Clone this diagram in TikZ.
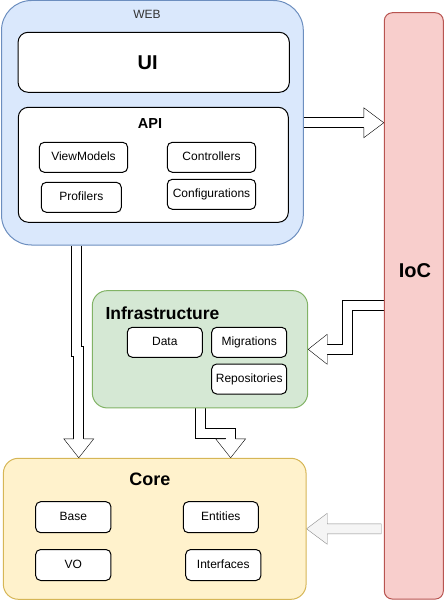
\documentclass[tikz,border=0pt]{standalone}
\usepackage{fontspec}
\setmainfont{Liberation Sans}
\usepackage{tikz}
\usetikzlibrary{calc,backgrounds}
\definecolor{webfill}{HTML}{DAE8FC}
\definecolor{webline}{HTML}{6C8EBF}
\definecolor{infrafill}{HTML}{D5E8D4}
\definecolor{infraline}{HTML}{82B366}
\definecolor{corefill}{HTML}{FFF2CC}
\definecolor{coreline}{HTML}{D6B656}
\definecolor{iocfill}{HTML}{F8CECC}
\definecolor{iocline}{HTML}{B85450}
\definecolor{arrowfill}{HTML}{F5F5F5}
\definecolor{arrowline}{HTML}{8C8C8C}

\begin{document}
\begin{tikzpicture}[x=1pt,y=-1pt,line width=1pt,inner sep=0pt,
  layer/.style={rectangle,draw,rounded corners=15pt},
  part/.style={rectangle,draw=black,fill=white,rounded corners=5pt,minimum height=30pt,
    font=\fontsize{12}{14}\selectfont,text height=8.6pt,text depth=2.4pt},
  heading/.style={font=\bfseries\fontsize{#1}{#1}\selectfont},
  flexshaft/.style={draw=white,line width=9pt,line join=miter,
    preaction={draw=black,line width=11pt,line join=miter}},
  flexhead/.style={draw=black,fill=white,line join=miter},
  grayarrow/.style={draw=arrowline,fill=arrowfill,line join=miter}]
\useasboundingbox (0,0) rectangle (445,601);

%Web
\node at (152.4,122.75)[layer,fill=webfill,draw=webline,rounded corners=30pt,minimum width=301.8pt,minimum height=244.5pt] (web) {} ;
\node at (147,14)[text=black!80,font=\fontsize{12}{14}\selectfont] (weblabel) {WEB} ;
\node at (153.7,62.3)[layer,fill=white,draw=black,rounded corners=10pt,minimum width=271.3pt,minimum height=60pt] (ui) {} ;
\node at (147.7,63)[heading=20] (uilabel) {UI} ;
\node at (153.3,164.8)[layer,fill=white,draw=black,rounded corners=10pt,minimum width=270pt,minimum height=115pt] (api) {} ;
\node at (150,123.5)[heading=14.5] (apilabel) {API} ;
\node at (83.5,157.3)[part,minimum width=88.4pt] (viewmodels) {ViewModels} ;
\node at (211.5,157.3)[part,minimum width=88.4pt] (controllers) {Controllers} ;
\node at (81.3,197.3)[part,minimum width=80pt] (profilers) {Profilers} ;
\node at (211.5,194.3)[part,minimum width=88.4pt] (configurations) {Configurations} ;

%Infrastructure
\node at (200,349.3)[layer,fill=infrafill,draw=infraline,minimum width=215.4pt,minimum height=117.3pt] (infra) {} ;
\node at (162.5,313)[heading=17.5] (infralabel) {Infrastructure} ;
\node at (164.8,342.3)[part,minimum width=75pt] (data) {Data} ;
\node at (249.2,342.3)[part,minimum width=75pt] (migrations) {Migrations} ;
\node at (249.2,379)[part,minimum width=75pt] (repositories) {Repositories} ;

%Core
\node at (154.7,528.8)[layer,fill=corefill,draw=coreline,minimum width=302.7pt,minimum height=141pt] (core) {} ;
\node at (150,479.5)[heading=18] (corelabel) {Core} ;
\node at (73.3,517.2)[part,minimum width=75.3pt,minimum height=31pt] (base) {Base} ;
\node at (220.8,517.2)[part,minimum width=75pt,minimum height=31pt] (entities) {Entities} ;
\node at (73.3,565)[part,minimum width=75.3pt,minimum height=31pt] (vo) {VO} ;
\node at (223.3,565)[part,minimum width=75.3pt,minimum height=31pt] (interfaces) {Interfaces} ;

%IoC
\node at (413.8,305.9)[layer,fill=iocfill,draw=iocline,rounded corners=8pt,minimum width=59pt,minimum height=586.3pt] (ioc) {} ;
\node at (415,271)[heading=20] (ioclabel) {IoC} ;

%Arrows
\coordinate (webout) at ($(web.south west)!0.25!(web.south east)$) ;
\coordinate (corein) at ($(core.north west)!0.25!(core.north east)$) ;
\coordinate (infrain) at ($(core.north west)!0.75!(core.north east)$) ;
\coordinate (iocin) at (ioc.west |- web.east) ;
\begin{scope}[on background layer]
%web -> ioc
\draw[flexshaft] (web.east) -- ($(iocin)+(-20,0)$) ;
\draw[flexhead] ($(iocin)+(-20,-5)$) -- ++(0,-10) -- (iocin) -- ++(-20,15) -- ++(0,-10) ;
%ioc -> infrastructure
\draw[flexshaft] (ioc.west) -| ($(infra.east)+(39,0)$) -- ($(infra.east)+(19,0)$) ;
\draw[flexhead] ($(infra.east)+(19,-5)$) -- ++(0,-10) -- (infra.east) -- ++(19,15) -- ++(0,-10) ;
%web -> core
\draw[flexshaft] (webout) |- ($(webout)!0.5!(corein)$) -| ($(corein)+(0,-19)$) ;
\draw[flexhead] ($(corein)+(-5,-19)$) -- ++(-10,0) -- (corein) -- ++(15,-19) -- ++(-10,0) ;
%infrastructure -> core
\draw[flexshaft] (infra.south) |- ($(infrain)+(0,-24.5)$) -- ($(infrain)+(0,-19)$) ;
\draw[flexhead] ($(infrain)+(-5,-19)$) -- ++(-10,0) -- (infrain) -- ++(15,-19) -- ++(-10,0) ;
%ioc -> core
\draw[grayarrow] ($(ioc.west |- core.east)+(-2.6,-5)$) -- ($(core.east)+(20.7,-5)$) -- ++(0,-10.5)
  -- (core.east) -- ++(20.7,15.5) -- ++(0,-10.5) -- ($(ioc.west |- core.east)+(-2.6,5)$) -- cycle ;
\end{scope}
\end{tikzpicture}
\end{document}
